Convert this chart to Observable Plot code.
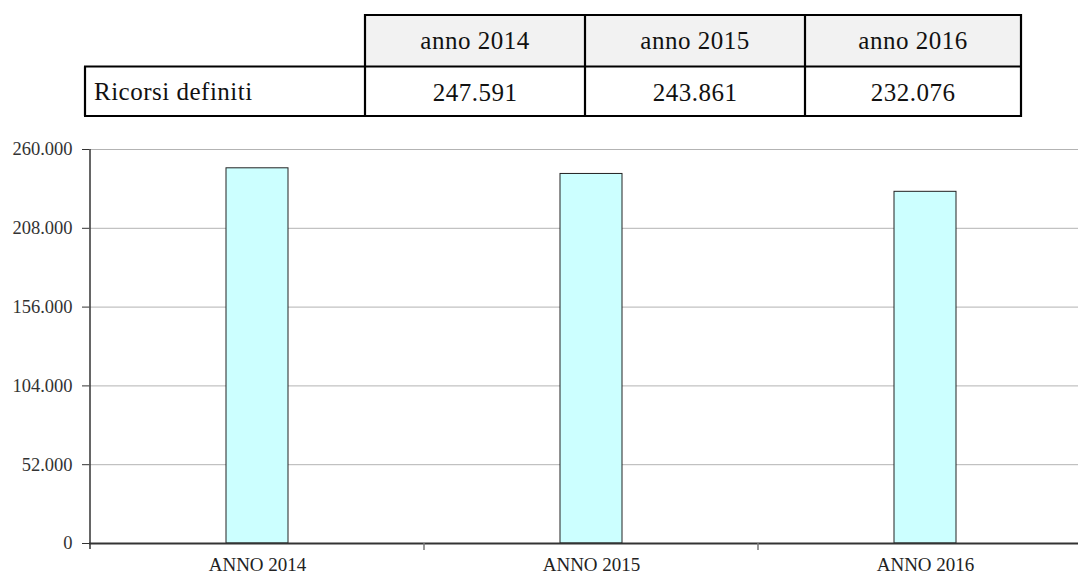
<!DOCTYPE html>
<html>
<head>
<meta charset="utf-8">
<script src="https://cdn.jsdelivr.net/npm/d3@7"></script>
<script src="https://cdn.jsdelivr.net/npm/@observablehq/plot@0.6"></script>
<style>
  html, body { margin: 0; padding: 0; background: #fff; width: 1078px; height: 574px; overflow: hidden; position: relative; }
  #tbl { position: absolute; left: 0; top: 0; }
  #chart { position: absolute; left: 0; top: 140px; width: 1100px; }
  #chart svg { max-width: none !important; }
</style>
</head>
<body>
<div id="tbl"></div>
<div id="chart"></div>
<script>
const tableHeaders = ["anno 2014", "anno 2015", "anno 2016"];
const rowLabel = "Ricorsi definiti";
const tableValues = ["247.591", "243.861", "232.076"];

const categories = ["ANNO 2014", "ANNO 2015", "ANNO 2016"];
const values = [247591, 243861, 232076];
const yTicks = [0, 52000, 104000, 156000, 208000, 260000];

const SERIF = "'Liberation Serif', 'Times New Roman', serif";

// ---- data table ----
const colX = [85, 365, 585, 805, 1021];
const rowY = [15, 66.5, 116];
const tsvg = d3.select("#tbl").append("svg")
  .attr("width", 1078).attr("height", 130).style("display", "block");
tsvg.append("rect").attr("x", colX[1]).attr("y", rowY[0]).attr("width", colX[4] - colX[1]).attr("height", rowY[1] - rowY[0]).attr("fill", "#f2f2f2");
const tl = tsvg.append("g").attr("stroke", "#000").attr("stroke-width", 2.2).attr("fill", "none");
tl.append("line").attr("x1", colX[1]).attr("x2", colX[4]).attr("y1", rowY[0]).attr("y2", rowY[0]);
tl.append("line").attr("x1", colX[0] - 1).attr("x2", colX[4] + 1).attr("y1", rowY[1]).attr("y2", rowY[1]);
tl.append("line").attr("x1", colX[0] - 1).attr("x2", colX[4] + 1).attr("y1", rowY[2]).attr("y2", rowY[2]);
tl.append("line").attr("x1", colX[0]).attr("x2", colX[0]).attr("y1", rowY[1]).attr("y2", rowY[2]);
colX.slice(1).forEach(x => tl.append("line").attr("x1", x).attr("x2", x).attr("y1", rowY[0] - 1).attr("y2", rowY[2] + 1));

function txt(x, y, s, anchor) {
  tsvg.append("text")
    .attr("x", x).attr("y", y)
    .attr("text-anchor", anchor)
    .attr("fill", "#111")
    .style("font-family", SERIF)
    .style("font-size", "25px")
    .style("letter-spacing", "0.5px")
    .text(s);
}
tableHeaders.forEach((t, i) => txt((colX[i + 1] + colX[i + 2]) / 2, 49, t, "middle"));
txt(94, 100, rowLabel, "start");
tableValues.forEach((t, i) => txt((colX[i + 1] + colX[i + 2]) / 2, 101, t, "middle"));

// ---- chart ----
const it = d3.formatLocale({decimal: ",", thousands: ".", grouping: [3], currency: ["€", ""]});
const fmt = it.format(",d");

const data = categories.map((c, i) => ({cat: c, value: values[i]}));

const plot = Plot.plot({
  width: 1100,
  height: 434,
  marginLeft: 89,
  marginRight: 7,
  marginTop: 9,
  marginBottom: 31,
  style: {fontFamily: SERIF, background: "transparent", overflow: "visible", maxWidth: "none"},
  x: {domain: categories, paddingInner: 0.815, paddingOuter: 0.4075, align: 0.5, label: null},
  y: {domain: [0, 260000], ticks: yTicks, label: null},
  marks: [
    Plot.gridY(yTicks, {stroke: "#b3b3b3", strokeOpacity: 1, strokeWidth: 1}),
    Plot.barY(data, {x: "cat", y: "value", fill: "#ccffff", stroke: "#222", strokeWidth: 1}),
    Plot.ruleY([0], {stroke: "#333", strokeWidth: 2}),
    Plot.axisY(yTicks, {tickFormat: fmt, tickSize: 7, tickPadding: 10, fontSize: 18.5, fill: "#333", stroke: "#333", label: null}),
    Plot.axisX({tickSize: 0, tickPadding: 14, fontSize: 19, fill: "#222", label: null})
  ]
});
document.getElementById("chart").appendChild(plot);

// axis line and band-boundary ticks, from the plot's scales
const xs = plot.scale("x"), ys = plot.scale("y");
const svg = d3.select(plot);
const y0 = ys.apply(0), yTop = ys.apply(260000);
const step = xs.step, bw = xs.bandwidth;
const left = xs.apply(categories[0]) + bw / 2 - step / 2;
const g = svg.append("g").attr("stroke", "#333");
g.append("line").attr("x1", left).attr("x2", left).attr("y1", yTop).attr("y2", y0 + 6).attr("stroke-width", 1.5);
categories.slice(1).forEach(c => {
  const bx = xs.apply(c) + bw / 2 - step / 2;
  g.append("line").attr("x1", bx).attr("x2", bx).attr("y1", y0).attr("y2", y0 + 7).attr("stroke-width", 1.5).attr("stroke", "#777");
});
</script>
</body>
</html>
